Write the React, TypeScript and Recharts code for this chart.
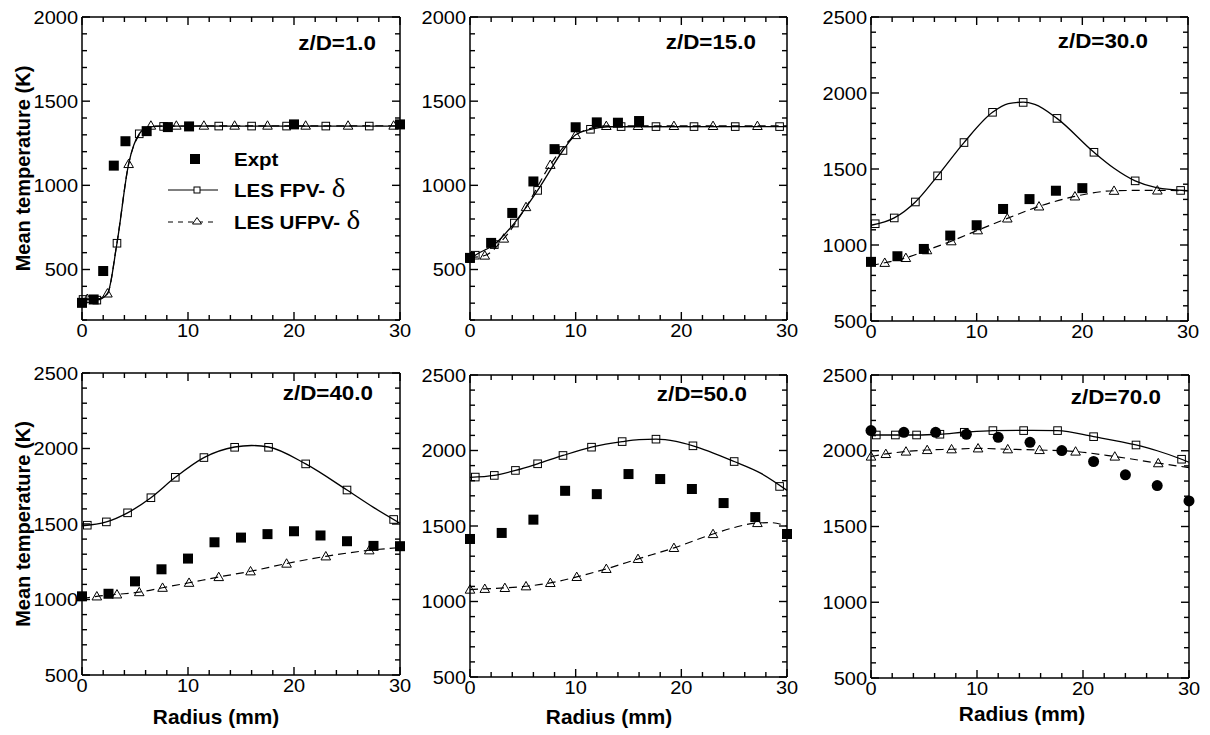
import React from 'react';
import { ComposedChart, Line, Scatter, XAxis, YAxis, Legend } from 'recharts';

type Pt = [number, number];

// ---------- Data (radius mm, temperature K) ----------
// z/D = 1.0
const expt1: Pt[] = [[0, 302], [1.1, 322], [2, 491], [3, 1117], [4.1, 1262], [6.1, 1322], [8.1, 1346], [10.1, 1350], [20, 1362], [30, 1362]];
const fpvMarks1: Pt[] = [[0.1, 322], [1.4, 318], [3.3, 656], [5.4, 1306], [7.7, 1350], [12.9, 1352], [16, 1352], [19.3, 1352], [23, 1352], [27.1, 1352]];
const fpvLine1: Pt[] = [[0, 322], [1.4, 320], [2.4, 356], [3.3, 656], [4.4, 1127], [5.4, 1306], [6.3, 1346], [7.5, 1352], [30, 1352]];
const ufpvMarks1: Pt[] = [[0.5, 326], [2.4, 358], [4.4, 1127], [6.5, 1355], [8.9, 1355], [11.5, 1355], [14.4, 1355], [17.5, 1355], [21.1, 1355], [25.1, 1355], [29.4, 1355]];
const ufpvLine1: Pt[] = [[0, 326], [1.4, 326], [2.4, 358], [3.3, 660], [4.4, 1127], [5.4, 1300], [6.5, 1352], [30, 1354]];

// z/D = 15.0
const expt2: Pt[] = [[0, 569], [2, 658], [4, 836], [6, 1023], [8, 1215], [10, 1345], [12, 1374], [14, 1372], [16, 1382]];
const fpvMarks2: Pt[] = [[0, 565], [0.5, 585], [2.3, 648], [4.2, 776], [6.4, 970], [8.8, 1207], [11.4, 1333], [14.3, 1349], [17.6, 1349], [21.2, 1349], [25.1, 1349], [29.3, 1349]];
const fpvLine2: Pt[] = [[0, 560], [0.5, 585], [2.3, 648], [4.2, 776], [6.4, 970], [8.8, 1207], [10, 1300], [11.4, 1333], [13, 1348], [30, 1349]];
const ufpvMarks2: Pt[] = [[1.4, 583], [3.2, 684], [5.3, 871], [7.6, 1122], [10, 1299], [12.9, 1353], [15.9, 1353], [19.3, 1353], [23, 1353], [27.2, 1353]];
const ufpvLine2: Pt[] = [[0, 570], [1.4, 583], [3.2, 684], [5.3, 871], [7.6, 1122], [10, 1299], [11.5, 1340], [12.9, 1353], [30, 1353]];

// z/D = 30.0
const expt3: Pt[] = [[0, 889], [2.5, 926], [5, 974], [7.5, 1062], [10, 1130], [12.5, 1237], [15, 1302], [17.5, 1357], [20, 1374]];
const fpvMarks3: Pt[] = [[0.4, 1140], [2.2, 1178], [4.2, 1283], [6.3, 1455], [8.8, 1674], [11.5, 1873], [14.4, 1938], [17.6, 1833], [21.1, 1610], [25, 1422], [29.3, 1359]];
const fpvLine3: Pt[] = [[0, 1130], [2.2, 1178], [4.2, 1283], [6.3, 1455], [8.8, 1674], [11.5, 1873], [13, 1930], [14.4, 1940], [15.5, 1925], [17.6, 1833], [21.1, 1610], [23, 1505], [25, 1422], [27, 1378], [30, 1357]];
const ufpvMarks3: Pt[] = [[1.3, 883], [3.3, 915], [5.3, 966], [7.6, 1025], [10.1, 1097], [12.9, 1175], [15.9, 1254], [19.3, 1320], [23, 1357], [27.1, 1359]];
const ufpvLine3: Pt[] = [[0, 865], [1.3, 883], [3.3, 915], [5.3, 966], [7.6, 1025], [10.1, 1097], [12.9, 1175], [15.9, 1254], [19.3, 1320], [23, 1357], [27.1, 1360], [30, 1357]];

// z/D = 40.0
const expt4: Pt[] = [[0, 1021], [2.5, 1038], [5, 1120], [7.5, 1200], [10, 1271], [12.5, 1379], [15, 1410], [17.5, 1433], [20, 1452], [22.5, 1424], [25, 1386], [27.5, 1355], [30, 1353]];
const fpvMarks4: Pt[] = [[0.5, 1492], [2.3, 1514], [4.3, 1574], [6.5, 1674], [8.8, 1809], [11.5, 1940], [14.4, 2008], [17.6, 2008], [21.1, 1898], [25, 1725], [29.4, 1530]];
const fpvLine4: Pt[] = [[0, 1488], [2.3, 1514], [4.3, 1574], [6.5, 1674], [8.8, 1809], [11.5, 1940], [14.4, 2010], [16, 2020], [17.6, 2010], [21.1, 1898], [25, 1725], [27.5, 1610], [30, 1505]];
const ufpvMarks4: Pt[] = [[1.4, 1021], [3.3, 1034], [5.4, 1049], [7.6, 1078], [10.1, 1111], [12.9, 1149], [15.9, 1187], [19.3, 1238], [23, 1286], [27.1, 1326]];
const ufpvLine4: Pt[] = [[0, 1005], [1.4, 1021], [3.3, 1034], [5.4, 1049], [7.6, 1078], [10.1, 1111], [12.9, 1149], [15.9, 1187], [19.3, 1238], [23, 1286], [27.1, 1326], [30, 1344]];

// z/D = 50.0
const expt5: Pt[] = [[0, 1414], [3, 1454], [6, 1542], [9, 1733], [12, 1711], [15, 1844], [18, 1811], [21, 1745], [24, 1652], [27, 1559], [30, 1447]];
const fpvMarks5: Pt[] = [[0.5, 1824], [2.3, 1835], [4.3, 1868], [6.4, 1912], [8.8, 1967], [11.5, 2022], [14.4, 2059], [17.6, 2075], [21.1, 2031], [25, 1927], [29.3, 1762]];
const fpvLine5: Pt[] = [[0, 1822], [2.3, 1835], [4.3, 1868], [6.4, 1912], [8.8, 1967], [11.5, 2022], [14.4, 2059], [16, 2072], [17.6, 2075], [19.5, 2060], [21.1, 2031], [25, 1927], [27.5, 1850], [30, 1736]];
const ufpvMarks5: Pt[] = [[0, 1079], [1.4, 1084], [3.3, 1090], [5.3, 1101], [7.6, 1123], [10.1, 1163], [12.9, 1216], [15.9, 1282], [19.3, 1355], [23, 1447], [27.2, 1520]];
const ufpvLine5: Pt[] = [[0, 1079], [1.4, 1084], [3.3, 1090], [5.3, 1101], [7.6, 1123], [10.1, 1163], [12.9, 1216], [15.9, 1282], [19.3, 1355], [23, 1447], [25, 1490], [27.2, 1520], [28.5, 1522], [30, 1498]];

// z/D = 70.0
const expt6: Pt[] = [[0, 2133], [3.1, 2122], [6.1, 2122], [9, 2109], [12, 2089], [15, 2056], [18, 2001], [21, 1929], [24, 1841], [27, 1770], [30, 1669]];
const fpvMarks6: Pt[] = [[0.5, 2104], [2.3, 2104], [4.3, 2104], [6.5, 2109], [8.8, 2122], [11.5, 2133], [14.4, 2133], [17.6, 2133], [21, 2093], [25, 2038], [29.3, 1944]];
const fpvLine6: Pt[] = [[0, 2104], [2.3, 2104], [4.3, 2104], [6.5, 2109], [8.8, 2122], [11.5, 2133], [14.4, 2135], [17.6, 2133], [21, 2093], [25, 2038], [27, 2000], [29.3, 1944], [30, 1924]];
const ufpvMarks6: Pt[] = [[0, 1962], [1.4, 1979], [3.3, 1995], [5.3, 2005], [7.6, 2010], [10.1, 2016], [12.9, 2010], [15.9, 2005], [19.3, 1995], [23, 1962], [27.1, 1918]];
const ufpvLine6: Pt[] = [[0, 1962], [1.4, 1979], [3.3, 1995], [5.3, 2005], [7.6, 2010], [10.1, 2016], [12.9, 2010], [15.9, 2005], [19.3, 1995], [23, 1962], [27.1, 1918], [30, 1889]];

// ---------- Ticks & labels ----------
const xTicks = [0, 2, 4, 6, 8, 10, 12, 14, 16, 18, 20, 22, 24, 26, 28, 30];
const xTickLabels = [0, 10, 20, 30];
const yTicksLow = [200, 300, 400, 500, 600, 700, 800, 900, 1000, 1100, 1200, 1300, 1400, 1500, 1600, 1700, 1800, 1900, 2000];
const yTicksHigh = [500, 600, 700, 800, 900, 1000, 1100, 1200, 1300, 1400, 1500, 1600, 1700, 1800, 1900, 2000, 2100, 2200, 2300, 2400, 2500];
const yTickLabels = [500, 1000, 1500, 2000, 2500];
const panelTitles = ['z/D=1.0', 'z/D=15.0', 'z/D=30.0', 'z/D=40.0', 'z/D=50.0', 'z/D=70.0'];
const legendLabels = ['Expt', 'LES FPV-', 'LES UFPV-'];
const deltaSymbol = '\u03B4';
const xAxisTitle = 'Radius (mm)';
const yAxisTitle = 'Mean temperature (K)';

// ---------- Panel definitions ----------
type PanelData = {
  expt: Pt[]; fpvMarks: Pt[]; fpvLine: Pt[]; ufpvMarks: Pt[]; ufpvLine: Pt[];
  yDomain: [number, number]; yTicks: number[]; exptCircle: boolean;
};
const panelData: PanelData[] = [
  { expt: expt1, fpvMarks: fpvMarks1, fpvLine: fpvLine1, ufpvMarks: ufpvMarks1, ufpvLine: ufpvLine1, yDomain: [200, 2000], yTicks: yTicksLow, exptCircle: false },
  { expt: expt2, fpvMarks: fpvMarks2, fpvLine: fpvLine2, ufpvMarks: ufpvMarks2, ufpvLine: ufpvLine2, yDomain: [200, 2000], yTicks: yTicksLow, exptCircle: false },
  { expt: expt3, fpvMarks: fpvMarks3, fpvLine: fpvLine3, ufpvMarks: ufpvMarks3, ufpvLine: ufpvLine3, yDomain: [500, 2500], yTicks: yTicksHigh, exptCircle: false },
  { expt: expt4, fpvMarks: fpvMarks4, fpvLine: fpvLine4, ufpvMarks: ufpvMarks4, ufpvLine: ufpvLine4, yDomain: [500, 2500], yTicks: yTicksHigh, exptCircle: false },
  { expt: expt5, fpvMarks: fpvMarks5, fpvLine: fpvLine5, ufpvMarks: ufpvMarks5, ufpvLine: ufpvLine5, yDomain: [500, 2500], yTicks: yTicksHigh, exptCircle: false },
  { expt: expt6, fpvMarks: fpvMarks6, fpvLine: fpvLine6, ufpvMarks: ufpvMarks6, ufpvLine: ufpvLine6, yDomain: [500, 2500], yTicks: yTicksHigh, exptCircle: true },
];

// layout (page pixels): plot box, title anchor, axis-title placement
type Layout = { px: number; py: number; pw: number; ph: number; tx: number; ty: number; yLab: boolean; xLab: null | { x: number; y: number } };
const layout: Layout[] = [
  { px: 82, py: 17, pw: 318, ph: 303, tx: 376, ty: 50, yLab: true, xLab: null },
  { px: 470, py: 17, pw: 317, ph: 303, tx: 756, ty: 49, yLab: false, xLab: null },
  { px: 871, py: 17, pw: 317, ph: 304, tx: 1148, ty: 48, yLab: false, xLab: null },
  { px: 82, py: 373, pw: 318, ph: 302, tx: 373, ty: 400, yLab: true, xLab: { x: 216, y: 724 } },
  { px: 470, py: 375, pw: 317, ph: 302, tx: 747, ty: 401, yLab: false, xLab: { x: 609, y: 724 } },
  { px: 871, py: 375, pw: 318, ph: 303, tx: 1161, ty: 404, yLab: false, xLab: { x: 1022, y: 721 } },
];

const SANS = '"Liberation Sans", Arial, Helvetica, sans-serif';
const SERIF = '"Liberation Serif", "Times New Roman", serif';

const toObj = (a: Pt[]) => a.map(([r, T]) => ({ r, T }));

// ---------- Tick renderers: inward ticks on both sides, frame, labels on left/bottom ----------
const makeBottomTick = (pw: number, ph: number) => (props: any) => {
  const x = Number(props.x);
  const y = Number(props.y);
  const v = props.payload.value;
  const major = xTickLabels.includes(v);
  const len = major ? 8 : 5;
  return (
    <g>
      <line x1={x} x2={x} y1={y} y2={y - len} stroke="#000" strokeWidth={1.4} />
      <line x1={x} x2={x} y1={y - ph} y2={y - ph + len} stroke="#000" strokeWidth={1.4} />
      {v === 0 && <line x1={x} x2={x + pw} y1={y - ph} y2={y - ph} stroke="#000" strokeWidth={1.5} />}
      {major && (
        <text transform={`translate(${x},${y + 17}) scale(1.08,1)`} textAnchor="middle" fontSize={18.5} fontFamily={SANS} fill="#000">
          {v}
        </text>
      )}
    </g>
  );
};
const makeLeftTick = (pw: number, ph: number, first: number) => (props: any) => {
  const x = Number(props.x);
  const y = Number(props.y);
  const v = props.payload.value;
  const major = yTickLabels.includes(v);
  const len = major ? 8 : 5;
  return (
    <g>
      <line x1={x} x2={x + len} y1={y} y2={y} stroke="#000" strokeWidth={1.4} />
      <line x1={x + pw} x2={x + pw - len} y1={y} y2={y} stroke="#000" strokeWidth={1.4} />
      {v === first && <line x1={x + pw} x2={x + pw} y1={y} y2={y - ph} stroke="#000" strokeWidth={1.5} />}
      {major && (
        <text transform={`translate(${x - 4},${y + 6.5}) scale(1.08,1)`} textAnchor="end" fontSize={18.5} fontFamily={SANS} fill="#000">
          {v}
        </text>
      )}
    </g>
  );
};

// ---------- Marker shapes ----------
const HollowSquare = (p: any) => (
  <rect x={p.cx - 3.8} y={p.cy - 3.8} width={7.6} height={7.6} fill="none" stroke="#000" strokeWidth={1} />
);
const HollowTriangle = (p: any) => (
  <path d={`M${p.cx},${p.cy - 4.8} L${p.cx + 4.8},${p.cy + 3.6} L${p.cx - 4.8},${p.cy + 3.6} Z`} fill="none" stroke="#000" strokeWidth={1} />
);
const FilledSquare = (p: any) => <rect x={p.cx - 5} y={p.cy - 5} width={10} height={10} fill="#000" />;
const FilledCircle = (p: any) => <circle cx={p.cx} cy={p.cy} r={5.5} fill="#000" />;

// ---------- Legend ----------
const LegendBox = () => (
  <svg width={230} height={100} style={{ display: 'block', overflow: 'visible' }}>
    <rect x={35} y={16} width={10} height={10} fill="#000" />
    <text transform="translate(79,28) scale(1.08,1)" fontSize={19} fontWeight="bold" fontFamily={SANS} fill="#000">
      {legendLabels[0]}
    </text>
    <path d="M13,52H63" stroke="#000" strokeWidth={1} />
    <rect x={39} y={49} width={6} height={6} fill="#fff" stroke="#000" strokeWidth={1} />
    <text transform="translate(79,59) scale(1.08,1)" fontSize={19} fontWeight="bold" fontFamily={SANS} fill="#000">
      {legendLabels[1]}
      <tspan fontFamily={SERIF} fontWeight="normal" fontSize={27} dx={6}>{deltaSymbol}</tspan>
    </text>
    <path d="M13,84H63" stroke="#000" strokeWidth={1} strokeDasharray="5 5" />
    <path d="M42,79.5 L46.5,86 L37.5,86 Z" fill="#fff" stroke="#000" strokeWidth={1} />
    <text transform="translate(79,91) scale(1.08,1)" fontSize={19} fontWeight="bold" fontFamily={SANS} fill="#000">
      {legendLabels[2]}
      <tspan fontFamily={SERIF} fontWeight="normal" fontSize={27} dx={6}>{deltaSymbol}</tspan>
    </text>
  </svg>
);

// ---------- Panel ----------
function Panel({ d, l, showLegend }: { d: PanelData; l: Layout; showLegend: boolean }) {
  const W = l.pw + 100;
  const H = l.ph + 75;
  const left = l.px - 80;
  const top = l.py - 15;
  const axisLine = { stroke: '#000', strokeWidth: 1.5 };
  return (
    <div style={{ position: 'absolute', left, top, width: W, height: H }}>
      <ComposedChart width={W} height={H} margin={{ top: 15, right: 20, left: 0, bottom: 0 }}>
        <XAxis xAxisId="b" dataKey="r" type="number" domain={[0, 30]} ticks={xTicks} interval={0} height={60}
          tickSize={0} tickMargin={0} tick={makeBottomTick(l.pw, l.ph)} tickLine={false} axisLine={axisLine} />
        <YAxis yAxisId="l" dataKey="T" type="number" domain={d.yDomain} ticks={d.yTicks} interval={0} width={80}
          tickSize={0} tickMargin={0} tick={makeLeftTick(l.pw, l.ph, d.yTicks[0])} tickLine={false} axisLine={axisLine} />
        <Line xAxisId="b" yAxisId="l" data={toObj(d.fpvLine)} dataKey="T" type="monotone" dot={false}
          stroke="#000" strokeWidth={1.3} isAnimationActive={false} />
        <Line xAxisId="b" yAxisId="l" data={toObj(d.ufpvLine)} dataKey="T" type="monotone" dot={false}
          stroke="#000" strokeWidth={1.2} strokeDasharray="8 5" isAnimationActive={false} />
        <Scatter xAxisId="b" yAxisId="l" data={toObj(d.fpvMarks)} dataKey="T" shape={HollowSquare} isAnimationActive={false} />
        <Scatter xAxisId="b" yAxisId="l" data={toObj(d.ufpvMarks)} dataKey="T" shape={HollowTriangle} isAnimationActive={false} />
        <Scatter xAxisId="b" yAxisId="l" data={toObj(d.expt)} dataKey="T" shape={d.exptCircle ? FilledCircle : FilledSquare} isAnimationActive={false} />
        {showLegend && (
          <Legend layout="vertical" align="center" verticalAlign="middle" content={() => <LegendBox />}
            wrapperStyle={{ left: 155 - left, top: 138 - top, width: 230, height: 100 }} />
        )}
      </ComposedChart>
    </div>
  );
}

export default function App() {
  return (
    <div style={{ position: 'absolute', left: 0, top: 0, width: 1210, height: 735, background: '#fff', overflow: 'hidden' }}>
      {panelData.map((d, i) => (
        <Panel key={i} d={d} l={layout[i]} showLegend={i === 0} />
      ))}
      <svg width={1210} height={735} style={{ position: 'absolute', left: 0, top: 0, pointerEvents: 'none' }}>
        {layout.map((l, i) => (
          <g key={i}>
            <text transform={`translate(${l.tx},${l.ty}) scale(1.12,1)`} textAnchor="end" fontSize={20} fontWeight="bold" fontFamily={SANS} fill="#000">
              {panelTitles[i]}
            </text>
            {l.yLab && (
              <text transform={`translate(30,${l.py + l.ph / 2}) rotate(-90)`} textAnchor="middle" fontSize={20} fontWeight="bold" fontFamily={SANS} fill="#000">
                {yAxisTitle}
              </text>
            )}
            {l.xLab && (
              <text transform={`translate(${l.xLab.x},${l.xLab.y}) scale(1.07,1)`} textAnchor="middle" fontSize={19.5} fontWeight="bold" fontFamily={SANS} fill="#000">
                {xAxisTitle}
              </text>
            )}
          </g>
        ))}
      </svg>
    </div>
  );
}
